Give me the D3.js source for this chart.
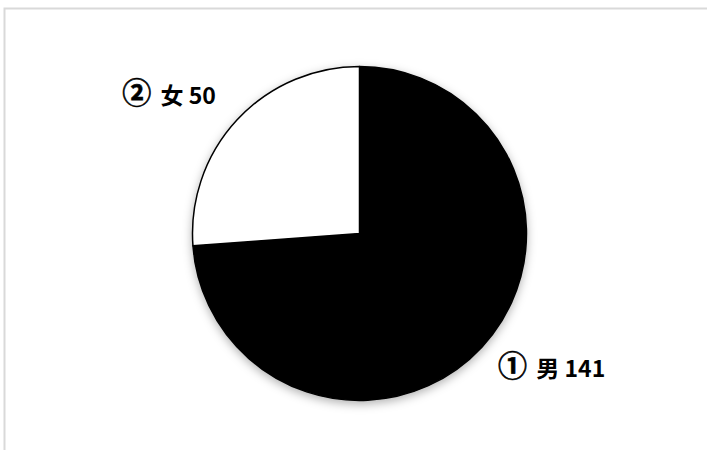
<!DOCTYPE html>
<html>
<head>
<meta charset="utf-8">
<script src="https://d3js.org/d3.v7.min.js"></script>
<style>
  body { margin: 0; background: #fff; }
  .label { font-family: "Noto Sans CJK SC", "Noto Sans", sans-serif; font-weight: bold; font-size: 23px; fill: #000; }
</style>
</head>
<body>
<svg width="707" height="450"></svg>
<script>
const categories = ["① 男", "② 女"];
const counts = [141, 50];
const fills = ["#000000", "#ffffff"];

const data = categories.map(function(c, i) { return { name: c, value: counts[i] }; });

var svg = d3.select("svg"),
    cx = 359.5,
    cy = 233.5,
    radius = 167;

// chart frame (right and bottom edges are outside the picture)
svg.append("rect")
  .attr("x", 4.5).attr("y", 8.5)
  .attr("width", 740).attr("height", 480)
  .attr("fill", "#fff")
  .attr("stroke", "#d9d9d9")
  .attr("stroke-width", 2);

var defs = svg.append("defs");
defs.append("filter")
  .attr("id", "shadow")
  .attr("x", "-20%").attr("y", "-20%")
  .attr("width", "140%").attr("height", "140%")
  .append("feDropShadow")
  .attr("dx", 0).attr("dy", 3)
  .attr("stdDeviation", 5)
  .attr("flood-color", "#000")
  .attr("flood-opacity", 0.3);

var g = svg.append("g").attr("transform", "translate(" + cx + "," + cy + ")");

var pie = d3.pie().sort(null).value(function(d) { return d.value; });
var arc = d3.arc().innerRadius(0).outerRadius(radius);
var arcs = pie(data);

g.append("g")
  .attr("filter", "url(#shadow)")
  .selectAll("path")
  .data(arcs)
  .enter().append("path")
  .attr("d", arc)
  .attr("fill", function(d, i) { return fills[i]; })
  .attr("stroke", "#000")
  .attr("stroke-width", 1.5)
  .attr("stroke-linejoin", "round");

// labels outside the pie
var labelArc = d3.arc().innerRadius(200).outerRadius(200);
var labels = g.selectAll("text")
  .data(arcs)
  .enter().append("text")
  .attr("class", "label")
  .attr("transform", function(d) {
    var p = labelArc.centroid(d);
    var left = (d.startAngle + d.endAngle) / 2 > Math.PI;
    p[0] += left ? 3 : -8;
    p[1] += 7;
    return "translate(" + p + ")";
  })
  .attr("text-anchor", function(d) { return (d.startAngle + d.endAngle) / 2 > Math.PI ? "end" : "start"; });

// circled number drawn a bit larger, like the original
labels.append("tspan")
  .style("font-size", "29px")
  .style("stroke", "#000")
  .style("stroke-width", 0.6)
  .text(function(d) { return d.data.name.charAt(0); });
labels.append("tspan")
  .attr("dx", 4)
  .text(function(d) { return d.data.name.slice(1) + " " + d.data.value; });
</script>
</body>
</html>
